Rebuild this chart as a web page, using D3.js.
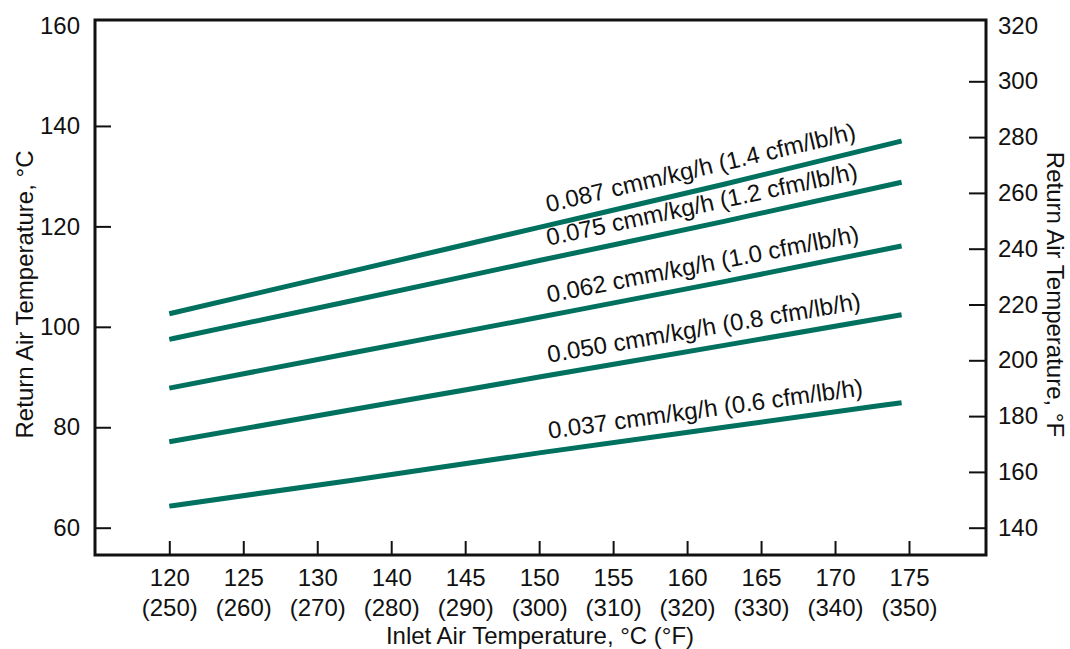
<!DOCTYPE html>
<html>
<head>
<meta charset="utf-8">
<script src="https://cdn.jsdelivr.net/npm/d3@7"></script>
<style>
  html, body { margin: 0; padding: 0; background: #fff; }
  svg { display: block; }
  text { font-family: "Liberation Sans", Arial, sans-serif; fill: #111; }
</style>
</head>
<body>
<svg id="chart" width="1070" height="649"></svg>
<script>
// Inlet air temperature, °F (sample points along each curve)
const inletF = [250, 275, 300, 325, 349];

// Return air temperature, °C, one array per specific airflow
const flow087 = [102.6, 111.2, 119.8, 128.4, 137.0];
const flow075 = [97.5, 105.3, 113.2, 121.0, 128.8];
const flow062 = [87.8, 94.9, 101.9, 109.0, 116.1];
const flow050 = [77.1, 83.6, 90.0, 96.3, 102.4];
const flow037 = [64.3, 69.5, 74.9, 80.0, 84.9];

const flowMetric = ["0.087", "0.075", "0.062", "0.050", "0.037"];
const flowImperial = ["1.4", "1.2", "1.0", "0.8", "0.6"];

// Axis ticks
const xTickF = [250, 260, 270, 280, 290, 300, 310, 320, 330, 340, 350];
const xTickC = ["120", "125", "130", "140", "145", "150", "155", "160", "165", "170", "175"];
const yTickC = [60, 80, 100, 120, 140, 160];
const yTickF = [140, 160, 180, 200, 220, 240, 260, 280, 300, 320];

const seriesList = [flow087, flow075, flow062, flow050, flow037];

const svg = d3.select("#chart");
const frame = { left: 95, right: 986, top: 20, bottom: 555 };
const lineColor = "#00705f";
const fontSize = 24;

const x = d3.scaleLinear().domain([250, 350]).range([169.3, 909]);
const yC = d3.scaleLinear().domain([60, 160]).range([527.7, 25.5]);
const yF = d3.scaleLinear().domain([140, 320]).range([527.7, 25.5]);

// Bottom axis: ticks point up into the plot, two-line labels (°C over °F)
const gx = svg.append("g")
  .attr("transform", `translate(0,${frame.bottom})`)
  .call(d3.axisBottom(x).tickValues(xTickF).tickSizeInner(-14).tickSizeOuter(0).tickFormat(""));
gx.select(".domain").remove();
gx.selectAll(".tick line").attr("stroke", "#111").attr("stroke-width", 2);
gx.selectAll(".tick text").remove();
gx.selectAll(".tick").each(function (d, i) {
  const t = d3.select(this).append("text")
    .attr("text-anchor", "middle")
    .style("font-size", fontSize + "px");
  t.append("tspan").attr("x", 0).attr("y", 31).text(xTickC[i]);
  t.append("tspan").attr("x", 0).attr("y", 61).text(`(${xTickF[i]})`);
});

// Left axis (°C)
const gl = svg.append("g")
  .attr("transform", `translate(${frame.left},0)`)
  .call(d3.axisLeft(yC).tickValues(yTickC).tickSizeInner(-16).tickSizeOuter(0).tickPadding(15));
gl.select(".domain").remove();
gl.selectAll(".tick line").attr("stroke", "#111").attr("stroke-width", 2)
  .attr("display", d => d === 160 ? "none" : null);
gl.selectAll(".tick text").style("font-size", fontSize + "px").attr("fill", "#111");

// Right axis (°F)
const gr = svg.append("g")
  .attr("transform", `translate(${frame.right},0)`)
  .call(d3.axisRight(yF).tickValues(yTickF).tickSizeInner(-17).tickSizeOuter(0).tickPadding(12));
gr.select(".domain").remove();
gr.selectAll(".tick line").attr("stroke", "#111").attr("stroke-width", 2)
  .attr("display", d => d === 320 ? "none" : null);
gr.selectAll(".tick text").style("font-size", fontSize + "px").attr("fill", "#111");

// Plot frame
svg.append("rect")
  .attr("x", frame.left).attr("y", frame.top)
  .attr("width", frame.right - frame.left).attr("height", frame.bottom - frame.top)
  .attr("fill", "none").attr("stroke", "#111").attr("stroke-width", 3);

// Curves
const line = d3.line()
  .x((d, i) => x(inletF[i]))
  .y(d => yC(d))
  .curve(d3.curveMonotoneX);

svg.append("g").selectAll("path")
  .data(seriesList)
  .join("path")
  .attr("d", d => line(d))
  .attr("fill", "none")
  .attr("stroke", lineColor)
  .attr("stroke-width", 5);

// Curve labels, set along each curve above it
const labelStartF = 301.6;
seriesList.forEach((s, k) => {
  const interp = f => {
    const i = Math.min(inletF.length - 2, d3.bisectRight(inletF, f) - 1);
    const t = (f - inletF[i]) / (inletF[i + 1] - inletF[i]);
    return s[i] + t * (s[i + 1] - s[i]);
  };
  const x0 = x(labelStartF), y0 = yC(interp(labelStartF));
  const x1 = x(340), y1 = yC(interp(340));
  const ang = Math.atan2(y1 - y0, x1 - x0);
  const off = 12.5;
  const px = x0 + off * Math.sin(ang), py = y0 - off * Math.cos(ang);
  svg.append("text")
    .attr("transform", `translate(${px},${py}) rotate(${ang * 180 / Math.PI})`)
    .style("font-size", fontSize + "px")
    .text(`${flowMetric[k]} cmm/kg/h (${flowImperial[k]} cfm/lb/h)`);
});

// Axis titles
svg.append("text")
  .attr("transform", `translate(33,${(frame.top + frame.bottom) / 2 + 7}) rotate(-90)`)
  .attr("text-anchor", "middle")
  .style("font-size", fontSize + "px")
  .text("Return Air Temperature, °C");

svg.append("text")
  .attr("transform", `translate(1047,${(frame.top + frame.bottom) / 2 + 7}) rotate(90)`)
  .attr("text-anchor", "middle")
  .style("font-size", fontSize + "px")
  .text("Return Air Temperature, °F");

svg.append("text")
  .attr("x", 540).attr("y", 644)
  .attr("text-anchor", "middle")
  .style("font-size", fontSize + "px")
  .text("Inlet Air Temperature, °C (°F)");
</script>
</body>
</html>
